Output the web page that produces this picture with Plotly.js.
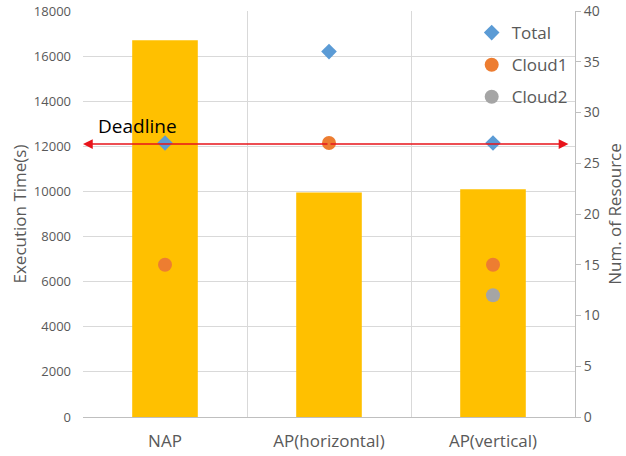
<!DOCTYPE html>
<html><head><meta charset="utf-8">
<script src="https://cdn.plot.ly/plotly-3.0.1.min.js"></script>
<style>html,body{margin:0;padding:0;background:#fff}#c{width:626px;height:456px}</style>
</head><body><div id="c"></div>
<script>
const categories = ["NAP", "AP(horizontal)", "AP(vertical)"];
const execTime = [16700, 9950, 10100];
const totalRes = [27, 36, 27];
const cloud1Res = [15, 27, 15];
const cloud2Res = [null, null, 12];
const deadline = 12100;

const font = "'Open Sans', sans-serif";
const grey = "#595959";

const traces = [
  {type: "bar", x: categories, y: execTime, marker: {color: "#FFC000"}, width: 0.4, showlegend: false, name: "Execution Time", hoverinfo: "skip"},
  {type: "scatter", mode: "markers", x: categories, y: totalRes, yaxis: "y2", name: "Total", legendgroup: "a",
   marker: {symbol: "diamond", size: 12, color: "#5B9BD5"}},
  {type: "scatter", mode: "markers", x: categories, y: cloud1Res, yaxis: "y2", name: "Cloud1", legendgroup: "b",
   marker: {symbol: "circle", size: 14, color: "#ED7D31"}},
  {type: "scatter", mode: "markers", x: categories, y: cloud2Res, yaxis: "y2", name: "Cloud2", legendgroup: "c",
   marker: {symbol: "circle", size: 14, color: "#A5A5A5"}}
];

const layout = {
  width: 626, height: 456,
  margin: {l: 83, r: 51, t: 11, b: 39},
  paper_bgcolor: "#fff", plot_bgcolor: "#fff",
  font: {family: font, size: 13, color: grey},
  xaxis: {type: "category", range: [-0.5, 2.5], tickson: "boundaries", showgrid: true, gridcolor: "#d9d9d9",
    showline: true, linecolor: "#bfbfbf", ticks: "", ticklabelstandoff: 9,
    tickfont: {size: 17, color: grey}, fixedrange: true},
  yaxis: {range: [0, 18000], dtick: 2000, tickformat: "d", showgrid: true, gridcolor: "#d9d9d9", zeroline: false,
    showline: false, ticks: "", ticklabelstandoff: 11, tickfont: {size: 13, color: grey},
    title: {text: "Execution Time(s)", font: {size: 17, color: grey}, standoff: 2}},
  yaxis2: {overlaying: "y", side: "right", range: [0, 40], dtick: 5, showgrid: false, zeroline: false,
    showline: true, linecolor: "#bfbfbf", ticks: "outside", ticklen: 5, tickcolor: "#bfbfbf",
    tickfont: {size: 14, color: grey},
    title: {text: "Num. of Resource", font: {size: 17, color: grey}, standoff: 12}},
  legend: {x: 0.79, y: 0.99, xanchor: "left", yanchor: "top", bgcolor: "rgba(0,0,0,0)",
    font: {size: 17, color: grey}, traceorder: "grouped", tracegroupgap: 7, itemwidth: 30},
  annotations: [
    {xref: "x", yref: "y", axref: "x", ayref: "y", x: -0.5, y: deadline, ax: 1, ay: deadline, text: "",
     showarrow: true, arrowhead: 2, arrowsize: 1.3, arrowwidth: 1.5, arrowcolor: "#E8141B"},
    {xref: "x", yref: "y", axref: "x", ayref: "y", x: 2.46, y: deadline, ax: 1, ay: deadline, text: "",
     showarrow: true, arrowhead: 2, arrowsize: 1.3, arrowwidth: 1.5, arrowcolor: "#E8141B"},
    {xref: "x", yref: "y", x: -0.42, y: deadline, yshift: 18, xanchor: "left", text: "Deadline", showarrow: false,
     font: {size: 19, color: "#000"}}
  ]
};

Plotly.newPlot("c", traces, layout, {displayModeBar: false, staticPlot: true});
</script>
</body></html>
